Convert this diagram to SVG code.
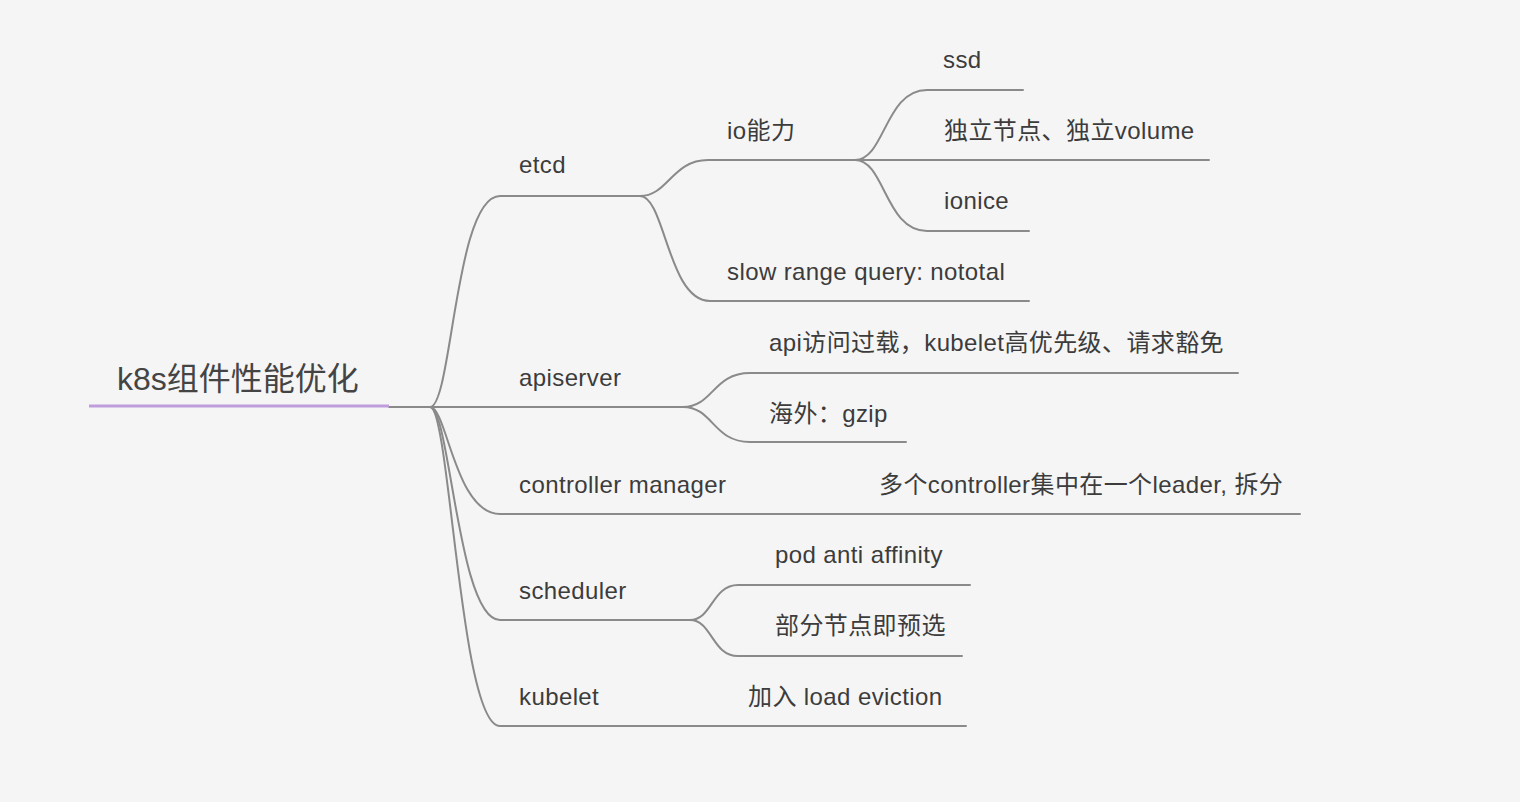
<svg xmlns="http://www.w3.org/2000/svg" width="1520" height="802" viewBox="0 0 1520 802">
<style>
.bg{fill:#f5f5f5}
.ln{fill:none;stroke:#8a8a8a;stroke-width:2;stroke-linecap:round}
.t{font-family:"Liberation Sans","Noto Sans CJK SC",sans-serif;font-size:24px;fill:#3c3c3c;letter-spacing:0.4px}
.root{font-family:"Liberation Sans","Noto Sans CJK SC",sans-serif;font-size:32px;fill:#444}
</style>
<rect class="bg" x="0" y="0" width="1520" height="802"/>
<g id="connectors">
<path class="ln" d="M389,407 H430"/>
<path class="ln" d="M430,407 C452,407 455,196 500,196 H640"/>
<path class="ln" d="M430,407 H683"/>
<path class="ln" d="M430,407 C447,407 455,514 500,514 H1300"/>
<path class="ln" d="M430,407 C450,407 458,620 500,620 H690"/>
<path class="ln" d="M430,407 C450,407 460,726 500,726 H966"/>
<path class="ln" d="M640,196 C668,196 672,160 708,160 H855"/>
<path class="ln" d="M640,196 C665,196 668,301 710,301 H1029"/>
<path class="ln" d="M855,160 C885,160 885,90 927,90 H1023"/>
<path class="ln" d="M813,160 H1209"/>
<path class="ln" d="M855,160 C885,160 885,231 927,231 H1029"/>
<path class="ln" d="M683,407 C713,407 713,373 750,373 H1238"/>
<path class="ln" d="M683,407 C713,407 713,442 750,442 H906"/>
<path class="ln" d="M690,620 C712,620 712,585 738,585 H970"/>
<path class="ln" d="M690,620 C712,620 712,656 738,656 H962"/>
</g>
<g id="root">
<path d="M89,406 H389" stroke="#bf9ddc" stroke-width="3" fill="none"/>
<text class="root" x="117" y="390">k8s组件性能优化</text>
</g>
<g id="etcd"><text class="t" x="519" y="173">etcd</text></g>
<g id="io"><text class="t" x="727" y="139">io能力</text></g>
<g id="ssd"><text class="t" x="943" y="68">ssd</text></g>
<g id="indep"><text class="t" x="944" y="139">独立节点、独立volume</text></g>
<g id="ionice"><text class="t" x="944" y="209">ionice</text></g>
<g id="slow"><text class="t" x="727" y="280">slow range query: nototal</text></g>
<g id="apiserver"><text class="t" x="519" y="386">apiserver</text></g>
<g id="overload"><text class="t" x="769" y="351">api访问过载，kubelet高优先级、请求豁免</text></g>
<g id="gzip"><text class="t" x="769" y="422">海外：gzip</text></g>
<g id="cm"><text class="t" x="519" y="493">controller manager</text></g>
<g id="leader"><text class="t" x="879" y="493">多个controller集中在一个leader, 拆分</text></g>
<g id="scheduler"><text class="t" x="519" y="599">scheduler</text></g>
<g id="pod"><text class="t" x="775" y="563">pod anti affinity</text></g>
<g id="partial"><text class="t" x="775" y="634">部分节点即预选</text></g>
<g id="kubelet"><text class="t" x="519" y="705">kubelet</text></g>
<g id="eviction"><text class="t" x="748" y="705">加入 load eviction</text></g>
</svg>
